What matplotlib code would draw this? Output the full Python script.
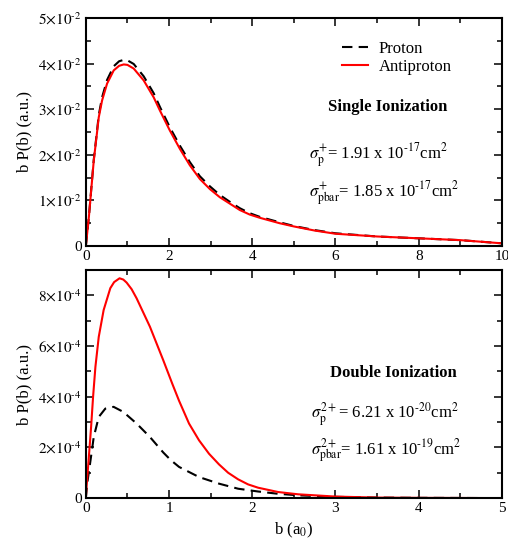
import matplotlib
matplotlib.use("Agg")
import matplotlib.pyplot as plt
from matplotlib.ticker import MultipleLocator, FuncFormatter

plt.rcParams['font.family'] = ['Liberation Serif', 'DejaVu Serif']
plt.rcParams['mathtext.fontset'] = 'stix'
plt.rcParams['font.size'] = 11

# single ionization, b in a0
b_single = [0, 0.072, 0.128, 0.19, 0.256, 0.31, 0.39, 0.51, 0.67, 0.8, 0.91, 1.0,
            1.15, 1.39, 1.63, 1.78, 2.02, 2.26, 2.5, 2.74, 2.98, 3.22, 3.46, 3.70,
            3.94, 4.18, 4.66, 5.0, 5.5, 6.0, 7.0, 8.0, 9.0, 10.0]
pbar_single = [0, 0.0063, 0.0122, 0.0187, 0.0239, 0.0282, 0.0319, 0.0356, 0.0385,
               0.0395, 0.0398, 0.0397, 0.0389, 0.0363, 0.0326, 0.0297, 0.0253,
               0.0213, 0.0177, 0.0147, 0.0125, 0.0107, 0.0093, 0.0079, 0.0069,
               0.0062, 0.0050, 0.0043, 0.0034, 0.0027, 0.0021, 0.0017, 0.0013,
               0.0006]
p_single = [0, 0.0063, 0.0123, 0.0189, 0.0242, 0.0287, 0.0326, 0.0364, 0.0394,
            0.0405, 0.0408, 0.0407, 0.0399, 0.0372, 0.0335, 0.0305, 0.0260,
            0.0220, 0.0184, 0.0153, 0.0131, 0.0112, 0.0097, 0.0083, 0.0072,
            0.0064, 0.0052, 0.0044, 0.0035, 0.0028, 0.0021, 0.0017, 0.0013,
            0.0006]

# double ionization
b_pbar_double = [0, 0.008, 0.036, 0.063, 0.087, 0.115, 0.155, 0.214, 0.294, 0.34,
                 0.405, 0.45, 0.49, 0.55, 0.61, 0.77, 0.93, 1.04, 1.12, 1.24, 1.36,
                 1.48, 1.60, 1.71, 1.83, 1.95, 2.07, 2.31, 2.55, 3.0, 3.5, 4.0, 5.0]
pbar_double = [0, 0.43e-4, 1.62e-4, 2.8e-4, 4.0e-4, 5.18e-4, 6.36e-4, 7.42e-4,
               8.28e-4, 8.52e-4, 8.67e-4, 8.62e-4, 8.5e-4, 8.24e-4, 7.88e-4,
               6.76e-4, 5.44e-4, 4.50e-4, 3.84e-4, 2.94e-4, 2.28e-4, 1.75e-4,
               1.33e-4, 1.0e-4, 0.74e-4, 0.54e-4, 0.41e-4, 0.24e-4, 0.15e-4,
               0.06e-4, 0.02e-4, 0.01e-4, 0]
b_p_double = [0, 0.016, 0.056, 0.095, 0.155, 0.234, 0.333, 0.45, 0.61, 0.77, 0.93,
              1.02, 1.12, 1.36, 1.6, 1.83, 2.07, 2.31, 2.55, 3.0, 3.5, 4.0, 5.0]
p_double = [0, 0.57e-4, 1.49e-4, 2.41e-4, 3.2e-4, 3.53e-4, 3.6e-4, 3.4e-4, 2.94e-4,
            2.41e-4, 1.80e-4, 1.50e-4, 1.23e-4, 0.83e-4, 0.57e-4, 0.37e-4,
            0.26e-4, 0.17e-4, 0.11e-4, 0.05e-4, 0.02e-4, 0.01e-4, 0]


def sci_fmt(exp):
    def f(v, pos):
        if abs(v) < 1e-12:
            return "0"
        m = v / 10 ** exp
        return r"$%d{\times}10^{\text{-}%d}$" % (round(m), -exp)
    return FuncFormatter(f)


def style(ax):
    ax.tick_params(which='both', direction='in', top=True, right=True,
                   labelsize=11, width=1.1)
    ax.tick_params(which='major', length=6, pad=3)
    ax.tick_params(which='minor', length=3.5)
    for s in ax.spines.values():
        s.set_linewidth(1.5)


fig = plt.figure(figsize=(5.08, 5.42), dpi=100)
ax1 = fig.add_axes([0.169, 0.546, 0.819, 0.421])
ax2 = fig.add_axes([0.169, 0.081, 0.819, 0.421])

ax1.plot(b_single, p_single, color='black', lw=1.5, ls=(0, (5, 3)), label='Proton')
ax1.plot(b_single, pbar_single, color='red', lw=1.5, label='Antiproton')
ax1.set_xlim(0, 10)
ax1.set_ylim(0, 0.05)
ax1.xaxis.set_major_locator(MultipleLocator(2))
ax1.xaxis.set_minor_locator(MultipleLocator(1))
ax1.yaxis.set_major_locator(MultipleLocator(0.01))
ax1.yaxis.set_minor_locator(MultipleLocator(0.005))
ax1.yaxis.set_major_formatter(sci_fmt(-2))
ax1.set_ylabel('b P(b) (a.u.)', fontsize=12)
style(ax1)
ax1.legend(loc='upper left', bbox_to_anchor=(0.615, 0.90), frameon=False,
           fontsize=12, handlelength=1.6, handletextpad=0.6, labelspacing=0.15,
           borderpad=0, borderaxespad=0)
ax1.text(0.726, 0.61, 'Single Ionization', transform=ax1.transAxes, ha='center',
         va='center', fontsize=12, fontweight='bold')
ax1.text(0.536, 0.40, r'$\sigma^{+}_{\rm p}$= 1.91 x 10$^{\text{-}17}$cm$^{2}$',
         transform=ax1.transAxes, ha='left', va='center', fontsize=12)
ax1.text(0.536, 0.23, r'$\sigma^{+}_{\rm pbar}$= 1.85 x 10$^{\text{-}17}$cm$^{2}$',
         transform=ax1.transAxes, ha='left', va='center', fontsize=12)

ax2.plot(b_p_double, p_double, color='black', lw=1.5, ls=(0, (5, 3)))
ax2.plot(b_pbar_double, pbar_double, color='red', lw=1.5)
ax2.set_xlim(0, 5)
ax2.set_ylim(0, 9e-4)
ax2.xaxis.set_major_locator(MultipleLocator(1))
ax2.xaxis.set_minor_locator(MultipleLocator(0.5))
ax2.yaxis.set_major_locator(MultipleLocator(2e-4))
ax2.yaxis.set_minor_locator(MultipleLocator(1e-4))
ax2.yaxis.set_major_formatter(sci_fmt(-4))
ax2.set_ylabel('b P(b) (a.u.)', fontsize=12)
ax2.set_xlabel(r'b (a$_0$)', fontsize=12)
style(ax2)
ax2.text(0.738, 0.55, 'Double Ionization', transform=ax2.transAxes, ha='center',
         va='center', fontsize=12, fontweight='bold')
ax2.text(0.541, 0.37, r'$\sigma^{2+}_{\rm p}$= 6.21 x 10$^{\text{-}20}$cm$^{2}$',
         transform=ax2.transAxes, ha='left', va='center', fontsize=12)
ax2.text(0.541, 0.21, r'$\sigma^{2+}_{\rm pbar}$= 1.61 x 10$^{\text{-}19}$cm$^{2}$',
         transform=ax2.transAxes, ha='left', va='center', fontsize=12)

fig.savefig('out.png', dpi=100)
